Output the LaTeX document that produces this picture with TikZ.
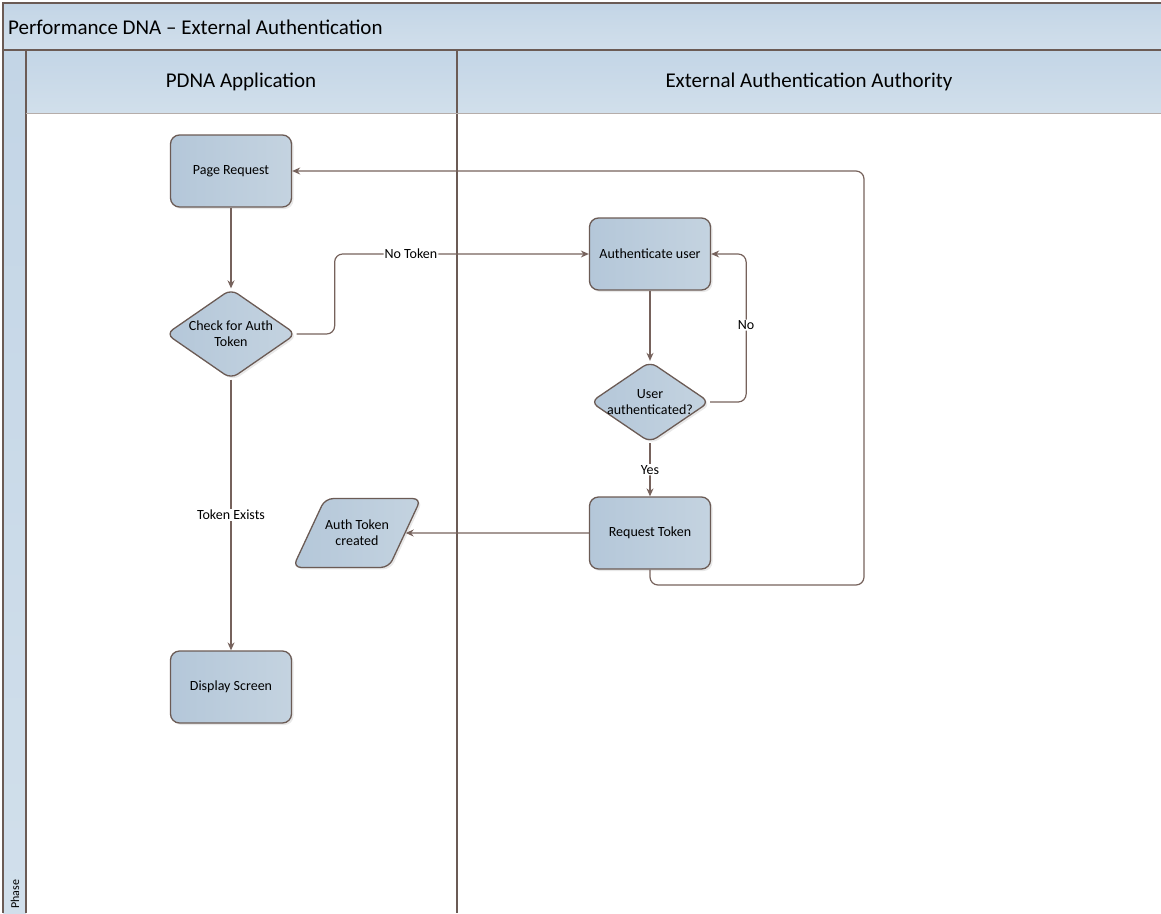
\documentclass[tikz,border=0pt]{standalone}
\usepackage{fontspec}
\setmainfont{Carlito}
\usetikzlibrary{arrows.meta,shapes.geometric,shadows}
\definecolor{laneline}{HTML}{6B5B55}
\definecolor{flowline}{HTML}{76625C}
\definecolor{boxfill}{HTML}{B4C7D9}
\definecolor{boxfillb}{HTML}{C4D3E0}
\definecolor{headfill}{HTML}{C3D5E6}
\definecolor{headfillb}{HTML}{D1DFEB}

\begin{document}
\begin{tikzpicture}[x=1pt,y=-1pt,
  lane/.style={draw=laneline,line width=1.4pt},
  head/.style={top color=headfill,bottom color=headfillb},
  big/.style={font=\fontsize{21}{24}\selectfont},
  txt/.style={font=\fontsize{14}{16}\selectfont,align=center},
  boxshadow/.style={drop shadow={shadow xshift=2pt,shadow yshift=-2pt,opacity=0.18}},
  proc/.style={txt,draw=laneline,line width=1.3pt,rounded corners=9pt,
    left color=boxfill,right color=boxfillb,boxshadow,
    minimum width=121pt,minimum height=72pt,inner sep=2pt},
  decide/.style={txt,shape=diamond,draw=laneline,line width=1.3pt,rounded corners=8pt,
    left color=boxfill,right color=boxfillb,boxshadow,aspect=1.5,
    minimum width=130pt,minimum height=90pt,inner sep=-4pt},
  data/.style={txt,shape=trapezium,trapezium left angle=65,trapezium right angle=115,
    trapezium stretches body=true,draw=laneline,line width=1.3pt,rounded corners=8pt,
    left color=boxfill,right color=boxfillb,boxshadow,
    minimum width=123pt,inner xsep=0pt,inner ysep=21.5pt},
  flow/.style={draw=flowline,line width=1.2pt,rounded corners=8pt,
    -{Stealth[length=8pt,width=7pt]}},
  lbl/.style={txt,fill=white,inner sep=1pt}]
\useasboundingbox (0,0) rectangle (1161,913);
% pool and lanes
\path[head] (3,3) rectangle (1161,50);
\path[head] (3,50) rectangle (26,913);
\path[head] (26,50) rectangle (1161,113);
\draw[lane] (1161,3) -- (3,3) -- (3,913);
\draw[lane] (3,50) -- (1161,50);
\draw[lane] (26,50) -- (26,913);
\draw[lane] (457,50) -- (457,913);
\draw[draw=laneline!50,line width=0.8pt] (26,113) -- (1161,113);
\node[big,anchor=west,inner sep=0pt] (pool) at (8,27) {Performance DNA – External Authentication};
\node[big] (lanea) at (241,82) {PDNA Application};
\node[big] (laneb) at (809,82) {External Authentication Authority};
\node[rotate=90,anchor=west,inner sep=0pt,font=\fontsize{12}{14}\selectfont] (phase) at (15,909) {Phase};
% steps
\node[proc] (page) at (231,171) {Page Request};
\node[decide] (check) at (231,334) {Check for Auth\\Token};
\node[proc] (disp) at (231,687) {Display Screen};
\node[proc] (auth) at (650,254) {Authenticate user};
\node[decide,minimum width=119pt,minimum height=81pt] (userok) at (650,402) {User\\authenticated?};
\node[proc] (req) at (650,533) {Request Token};
\node[data] (token) at (357,533) {Auth Token\\created};
\coordinate (back) at (864,585);
% connectors
\draw[flow] (page) -- (check);
\draw[flow] (check.east) -- ++(38,0) |- (auth.west) node[lbl,pos=0.65] {No Token};
\draw[flow] (check) -- (disp) node[lbl,midway] {Token Exists};
\draw[flow] (auth) -- (userok);
\draw[flow] (userok.east) -- ++(36,0) |- (auth.east) node[lbl,pos=0.26] {No};
\draw[flow] (userok) -- (req) node[lbl,midway] {Yes};
\draw[flow] (req) -- (token);
\draw[flow] (req.south) |- (back) |- (page.east);
\end{tikzpicture}
\end{document}
